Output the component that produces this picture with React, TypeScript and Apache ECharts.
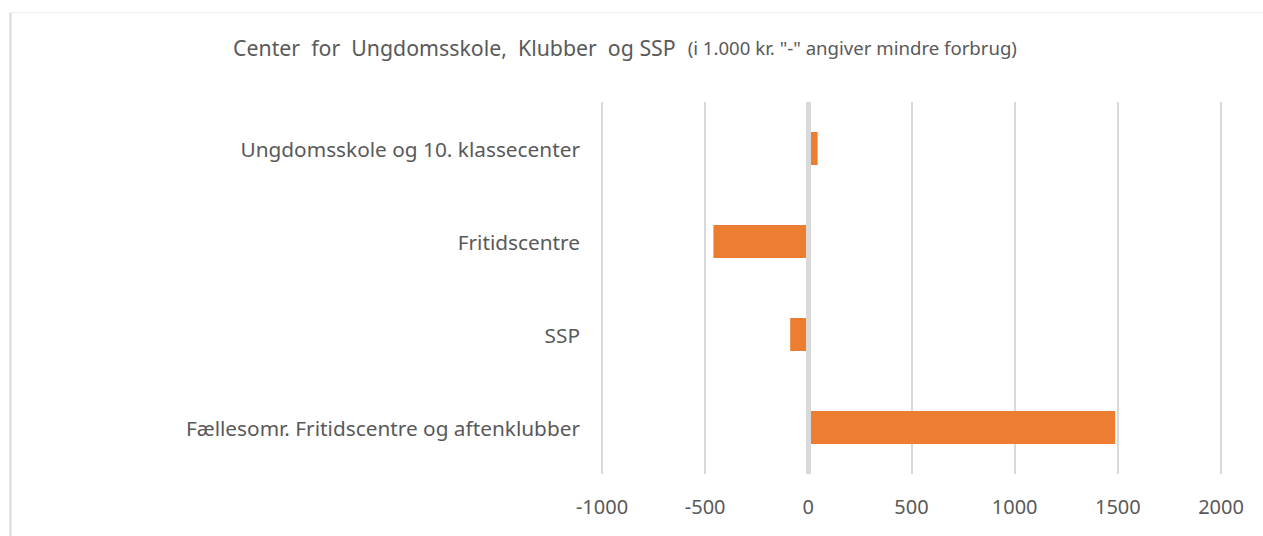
import React, { useEffect, useRef } from "react";
import * as echarts from "echarts";

const categories = [
  "Ungdomsskole og 10. klassecenter",
  "Fritidscentre",
  "SSP",
  "Fællesomr. Fritidscentre og aftenklubber",
];
const values = [45, -460, -88, 1487];
const titleMain = "Center  for  Ungdomsskole,  Klubber  og SSP";
const titleSub = "(i 1.000 kr. \"-\" angiver mindre forbrug)";

const FONT = "'Noto Sans', 'Open Sans', sans-serif";
const TEXT = "#595959";
const GRID = "#D9D9D9";

export default function App() {
  const ref = useRef<HTMLDivElement>(null);
  useEffect(() => {
    if (!ref.current) return;
    const chart = echarts.init(ref.current, undefined, { renderer: "svg" });
    chart.setOption({
      animation: false,
      backgroundColor: "#ffffff",
      textStyle: { fontFamily: FONT },
      title: {
        text: `{a|${titleMain}}{b|${titleSub}}`,
        left: 228,
        top: 32,
        textStyle: {
          fontWeight: "normal",
          rich: {
            a: { fontFamily: FONT, fontSize: 21.3, color: TEXT, fontWeight: "normal" },
            b: { fontFamily: FONT, fontSize: 18.6, color: TEXT, fontWeight: "normal", padding: [0, 0, 0, 12] },
          },
        },
      },
      graphic: [
        { type: "line", shape: { x1: 10.5, y1: 12, x2: 10.5, y2: 536 }, style: { stroke: GRID, lineWidth: 2 } },
        { type: "line", shape: { x1: 10, y1: 12.5, x2: 1263, y2: 12.5 }, style: { stroke: "#EFEFEF", lineWidth: 1 } },
      ],
      grid: { left: 602, right: 42, top: 102, bottom: 62, containLabel: false },
      xAxis: {
        type: "value",
        min: -1000,
        max: 2000,
        interval: 500,
        axisLine: { show: false },
        axisTick: { show: false },
        axisLabel: {
          color: TEXT,
          fontSize: 20,
          margin: 22,
          fontFamily: FONT,
          formatter: (v: number) => String(v),
        },
        splitLine: { lineStyle: { color: GRID, width: 2 } },
      },
      yAxis: {
        type: "category",
        inverse: true,
        data: categories,
        axisLine: { show: false },
        axisTick: { show: false },
        axisLabel: { color: TEXT, fontSize: 20.8, margin: 22, fontFamily: FONT },
        splitLine: { show: false },
      },
      series: [
        {
          type: "bar",
          data: values,
          barWidth: 33,
          itemStyle: { color: "#ED7D31" },
          markLine: {
            silent: true,
            symbol: "none",
            label: { show: false },
            lineStyle: { color: GRID, width: 5, type: "solid" },
            data: [{ xAxis: 0 }],
          },
        },
      ],
    });
    return () => chart.dispose();
  }, []);
  return (
    <div
      ref={ref}
      style={{ position: "fixed", left: 0, top: 0, width: 1263, height: 536 }}
    />
  );
}
